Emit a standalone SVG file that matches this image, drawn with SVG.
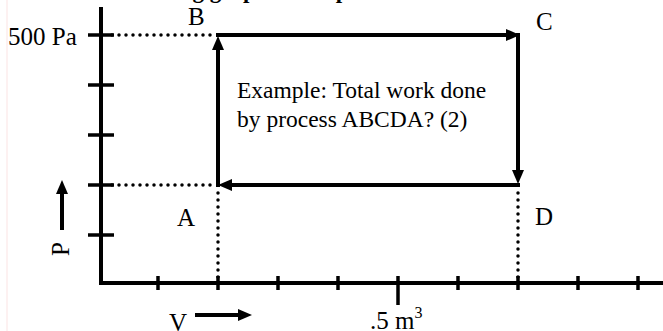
<svg xmlns="http://www.w3.org/2000/svg" width="663" height="331" viewBox="0 0 663 331">
  <style>
    .lbl { font-family: "Liberation Serif", "Times New Roman", serif; font-size: 25px; fill: #000; }
    .body { font-family: "Liberation Serif", "Times New Roman", serif; font-size: 23.5px; fill: #000; }
    .head { font-family: "Liberation Serif", "Times New Roman", serif; font-size: 23px; font-weight: bold; fill: #000; }
    .axis { stroke: #000; stroke-width: 4; fill: none; }
    .tick { stroke: #000; stroke-width: 3.5; fill: none; }
    .proc { stroke: #000; stroke-width: 4; fill: none; }
    .dot { stroke: #000; stroke-width: 3.5; stroke-linecap: round; stroke-dasharray: 0 7; fill: none; }
  </style>
  <defs>
    <marker id="ah" markerUnits="userSpaceOnUse" markerWidth="16" markerHeight="12" refX="6" refY="6" orient="auto" viewBox="0 0 16 12">
      <path d="M0,0 L14,6 L0,12 z" fill="#000"/>
    </marker>
  </defs>
  <rect width="663" height="331" fill="#fff"/>
  <line x1="7" y1="0" x2="7" y2="331" stroke="#fbe3e3" stroke-width="1"/>

  <text class="head" x="29" y="-2">Method 1: adding graph of the processes:</text>

  <g id="axes">
    <line class="axis" x1="101" y1="7" x2="101" y2="285"/>
    <line class="axis" x1="99" y1="283" x2="663" y2="283"/>
    <line class="tick" x1="88" y1="35" x2="114" y2="35"/>
    <line class="tick" x1="88" y1="85" x2="114" y2="85"/>
    <line class="tick" x1="88" y1="135" x2="114" y2="135"/>
    <line class="tick" x1="88" y1="185" x2="114" y2="185"/>
    <line class="tick" x1="88" y1="235" x2="114" y2="235"/>
    <line class="tick" x1="158" y1="276" x2="158" y2="290"/>
    <line class="tick" x1="218" y1="276" x2="218" y2="290"/>
    <line class="tick" x1="278" y1="276" x2="278" y2="290"/>
    <line class="tick" x1="338" y1="276" x2="338" y2="290"/>
    <line class="tick" x1="398" y1="276" x2="398" y2="305"/>
    <line class="tick" x1="458" y1="276" x2="458" y2="290"/>
    <line class="tick" x1="518" y1="276" x2="518" y2="290"/>
    <line class="tick" x1="578" y1="276" x2="578" y2="290"/>
    <line class="tick" x1="638" y1="276" x2="638" y2="290"/>
    <text class="lbl" x="8" y="45">500 Pa</text>
    <text class="lbl" x="370" y="329">.5 m<tspan font-size="16" dy="-11">3</tspan></text>
  </g>

  <g id="axis-labels">
    <text class="lbl" transform="translate(69,256) rotate(-90)" x="0" y="0">P</text>
    <line class="proc" x1="62" y1="230" x2="62" y2="188" marker-end="url(#ah)"/>
    <text class="lbl" x="169" y="331">V</text>
    <line class="proc" x1="195" y1="315" x2="244" y2="315" marker-end="url(#ah)"/>
  </g>

  <g id="node-A"><text class="lbl" x="177" y="226">A</text></g>
  <g id="node-B"><text class="lbl" x="188" y="25">B</text></g>
  <g id="node-C"><text class="lbl" x="536" y="30">C</text></g>
  <g id="node-D"><text class="lbl" x="535" y="225">D</text></g>

  <g id="question">
    <text class="body" x="237" y="98">Example: Total work done</text>
    <text class="body" x="237" y="127">by process ABCDA? (2)</text>
  </g>

  <g id="connectors">
    <line class="dot" x1="112" y1="35" x2="214" y2="35"/>
    <line class="dot" x1="112" y1="185" x2="214" y2="185"/>
    <line class="dot" x1="218" y1="193" x2="218" y2="278"/>
    <line class="dot" x1="518" y1="193" x2="518" y2="278"/>
    <line class="proc" x1="218" y1="187" x2="218" y2="44" marker-end="url(#ah)"/>
    <line class="proc" x1="216" y1="35" x2="512" y2="35" marker-end="url(#ah)"/>
    <line class="proc" x1="518" y1="33" x2="518" y2="176" marker-end="url(#ah)"/>
    <line class="proc" x1="520" y1="185" x2="226" y2="185" marker-end="url(#ah)"/>
  </g>
</svg>
